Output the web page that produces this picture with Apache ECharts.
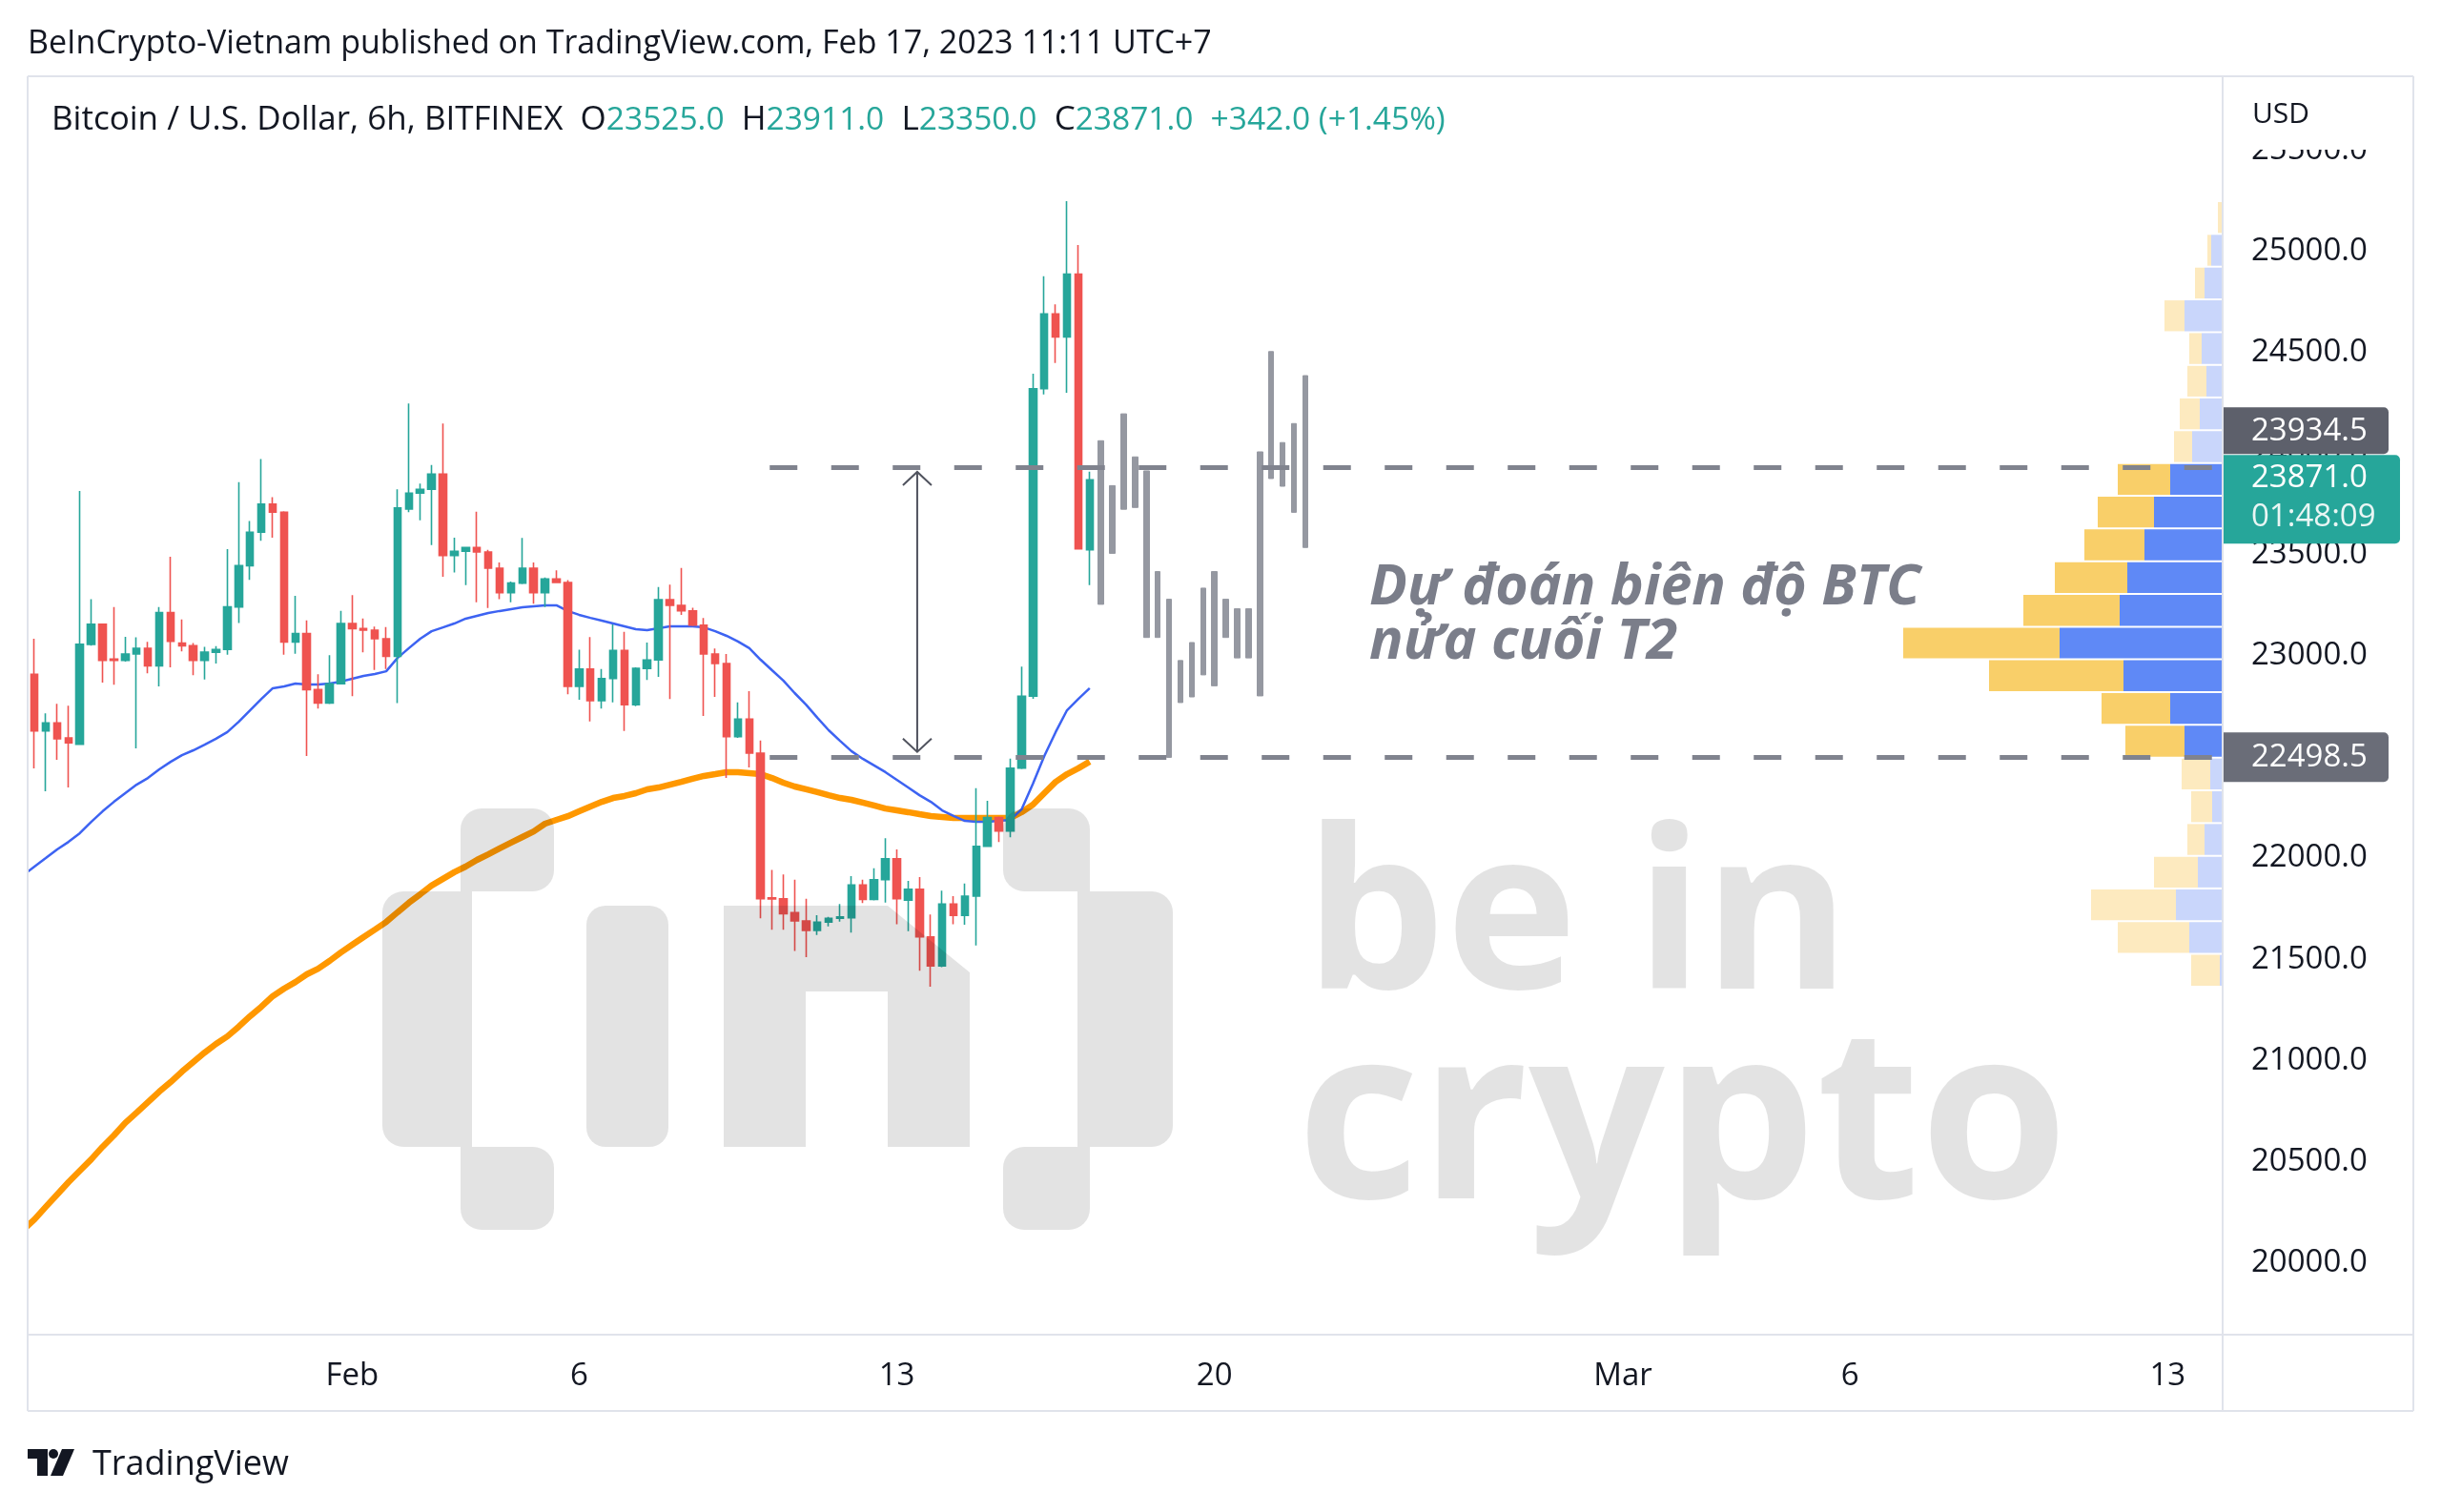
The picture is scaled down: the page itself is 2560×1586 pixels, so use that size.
<!DOCTYPE html>
<html><head><meta charset="utf-8">
<script src="https://cdn.jsdelivr.net/npm/echarts/dist/echarts.min.js"></script>
<style>html,body{margin:0;padding:0;background:#fff}#c{width:2560px;height:1586px}</style>
</head><body><div id="c"></div>
<script>
const FONT = '"Open Sans", Roboto, sans-serif';
// ---- 6h candles BTC/USD (index 0 = Jan 25 01:00, UTC+7) ----
const candleOpen = [22909,22629,22668,22594,22563,23057,23156,22984,22978,23009,23037,22951,23214,23063,23050,22978,23018,23032,23242,23446,23612,23750,23711,23069,23111,22833,22767,22862,23160,23135,23127,23085,22998,23726,23805,23824,23899,23496,23517,23536,23514,23434,23312,23360,23434,23312,23380,23363,22849,22935,22778,22888,23027,22758,22938,22980,23278,23250,23223,23152,23009,22962,22600,22687,22519,21803,21798,21730,21689,21642,21683,21702,21705,21867,21796,21893,21997,21792,21846,21610,21466,21773,21717,21812,22058,22200,22134,22445,22801,24321,24691,24577,24888,23525];
const candleHigh = [23085,22716,22763,22754,23816,23281,23160,23242,23094,23092,23069,23242,23490,23180,23063,23045,23048,23528,23859,23667,23973,23785,23715,23297,23176,22909,23004,23223,23300,23185,23145,23143,23824,24248,23852,23944,24149,23585,23540,23713,23525,23462,23368,23583,23462,23388,23423,23375,23030,23093,22935,23155,23119,22943,23066,23341,23352,23435,23238,23187,23037,23009,22770,22825,22582,21941,21919,21893,21799,21717,21709,21773,21911,21893,21950,22098,22043,21887,21906,21721,21839,21812,21874,22346,22283,22205,22492,22947,24395,24878,24738,25249,25032,23911];
const candleLow = [22444,22330,22486,22349,22560,23050,22868,22857,22972,22543,22914,22849,22943,23022,22904,22883,22962,23006,23163,23376,23569,23584,23006,23010,22505,22739,22762,22858,22801,23017,22930,22935,22767,23711,23671,23548,23391,23412,23350,23265,23237,23281,23265,23355,23258,23242,23360,22810,22783,22676,22739,22770,22629,22751,22881,22896,22786,23203,23147,22703,22797,22396,22594,22448,21702,21646,21646,21541,21510,21620,21662,21686,21631,21777,21790,21780,21673,21639,21443,21364,21460,21673,21670,21568,22055,22079,22103,22440,22788,24293,24448,24301,23529,23350];
const candleClose = [22629,22668,22590,22570,23057,23156,22978,22978,23009,23037,22951,23214,23072,23050,22978,23018,23032,23242,23446,23612,23750,23711,23069,23111,22833,22767,22862,23160,23135,23127,23085,22998,23732,23805,23824,23899,23496,23517,23536,23514,23434,23312,23360,23434,23312,23380,23363,22849,22935,22778,22888,23027,22758,22938,22980,23278,23250,23223,23152,23009,22962,22600,22687,22519,21799,21798,21725,21689,21642,21683,21702,21709,21867,21796,21893,21997,21799,21846,21610,21466,21773,21717,21812,22058,22200,22134,22445,22801,24321,24691,24577,24888,23529,23871];
// ---- moving averages (first value = bar just left of the view) ----
const maStartIndex = -1;
const maFast = [21915,21958,22000,22043,22080,22123,22179,22231,22278,22321,22363,22396,22439,22476,22509,22533,22561,22590,22623,22674,22731,22787,22840,22849,22863,22858,22858,22863,22873,22887,22901,22910,22924,22990,23038,23085,23122,23141,23160,23184,23198,23212,23222,23231,23240,23245,23250,23250,23222,23203,23188,23174,23160,23146,23132,23127,23137,23146,23146,23146,23141,23122,23099,23071,23038,22981,22929,22878,22816,22759,22694,22632,22580,22529,22491,22458,22425,22387,22349,22311,22278,22236,22208,22184,22179,22179,22184,22189,22241,22368,22505,22623,22731,22787,22840];
const maSlow = [20161,20213,20275,20336,20397,20454,20510,20572,20628,20690,20741,20793,20845,20892,20944,20991,21038,21081,21118,21166,21218,21265,21317,21354,21387,21425,21453,21491,21533,21571,21609,21646,21684,21732,21779,21821,21864,21897,21930,21958,21991,22019,22048,22076,22104,22132,22170,22189,22207,22231,22255,22278,22297,22307,22321,22340,22349,22363,22377,22392,22406,22415,22425,22425,22420,22415,22396,22373,22354,22340,22326,22311,22297,22288,22274,22260,22245,22236,22227,22217,22208,22203,22198,22198,22198,22198,22198,22198,22227,22264,22321,22377,22415,22444,22477];
// ---- projected (gray) bars ----
const projStart = 94;
const projLow  = [23255,23507,23725,23734,23091,23091,22498,22769,22797,22906,22852,23091,22990,22990,22802,23877,23839,23710,23536];
const projHigh = [24064,23842,24197,23984,23915,23417,23280,22977,23066,23335,23417,23280,23233,23233,24009,24505,24055,24149,24386];
// ---- volume profile (rows top->bottom) ----
const vpEdges = [25249,25087,24925,24763,24601,24439,24278,24116,23954,23792,23630,23468,23306,23144,22983,22821,22659,22497,22335,22173,22011,21850,21688,21526,21364];
const vpUp   = [0,12,19,40,22,17,24,32,55,72,82,100,108,171,104,55,40,13,11,19,26,49,35,3];
const vpDown = [5,4,10,21,13,20,21,19,55,59,63,76,101,164,141,72,62,30,22,18,46,89,75,30];
const vpValueArea = [0,0,0,0,0,0,0,0,1,1,1,1,1,1,1,1,1,0,0,0,0,0,0,0];
const vah = 23934.5, val = 22498.5;
const rangeStartIndex = 64.8;
const arrowIndex = 77.8, arrowTop = 23910, arrowBottom = 22525;
// ---- axes ----
const timeTickIndex = [28,48,76,104,140,160,188];
const timeTickLabels = ['Feb','6','13','20','Mar','6','13'];
const priceTicks = [20000,20500,21000,21500,22000,22500,23000,23500,24000,24500,25000,25500];
const lastOpen = 23525.0, lastHigh = 23911.0, lastLow = 23350.0, lastClose = 23871.0, change = 342.0, changePct = 1.45;
const countdown = '01:48:09';

const GRID = {left: 29, top: 80, width: 2302, height: 1320};
const UP = '#26a69a', DOWN = '#ef5350';

const chart = echarts.init(document.getElementById('c'), null, {renderer: 'canvas'});
const option = {
  animation: false,
  backgroundColor: '#ffffff',
  grid: GRID,
  xAxis: [{
    type: 'value', min: -0.6, max: 192.85,
    axisLine: {show: false}, axisTick: {show: false}, splitLine: {show: false},
    axisLabel: {customValues: timeTickIndex, formatter: v => timeTickLabels[timeTickIndex.indexOf(v)],
      color: '#131722', fontSize: 33, fontFamily: FONT, margin: 27}
  }, {
    type: 'value', inverse: true, min: 0, max: 2302, show: false
  }],
  yAxis: [{
    type: 'value', position: 'right', min: 19642.8, max: 25866.6,
    axisLine: {show: false}, axisTick: {show: false}, splitLine: {show: false},
    axisLabel: {customValues: priceTicks, formatter: v => v.toFixed(1), color: '#131722',
      fontSize: 33, fontFamily: FONT, margin: 30, align: 'left'}
  }],
  series: [
    {
      type: 'custom', name: 'VPVR', xAxisIndex: 1, yAxisIndex: 0, z: 1,
      data: vpUp.map((u, k) => [vpEdges[k + 1], vpEdges[k], u, vpDown[k], vpValueArea[k]]),
      encode: {x: 2, y: [0, 1]},
      renderItem: (params, api) => {
        const lo = api.value(0), hi = api.value(1), up = api.value(2), dn = api.value(3), va = api.value(4);
        const pTop = api.coord([0, hi]), pUp = api.coord([up, lo]), pDn = api.coord([up + dn, lo]);
        const y0 = pTop[1] + 1, h = pUp[1] - pTop[1] - 2;
        return {type: 'group', children: [
          {type: 'rect', shape: {x: pUp[0], y: y0, width: pTop[0] - pUp[0], height: h}, style: {fill: va ? '#5f89f6' : '#c9d6fb'}},
          {type: 'rect', shape: {x: pDn[0], y: y0, width: pUp[0] - pDn[0], height: h}, style: {fill: va ? '#f9cf69' : '#fdeabf'}}
        ]};
      }
    },
    {
      type: 'line', name: 'MA slow', data: maSlow.map((v, i) => [i + maStartIndex, v]), showSymbol: false, z: 2,
      lineStyle: {color: '#ff9800', width: 6.5, cap: 'butt'}
    },
    {
      type: 'line', name: 'MA fast', data: maFast.map((v, i) => [i + maStartIndex, v]), showSymbol: false, z: 2,
      lineStyle: {color: '#3d63f2', width: 2.5}
    },
    {
      type: 'candlestick', name: 'BTCUSD', z: 3, barWidth: 8,
      data: candleOpen.map((o, i) => [i, o, candleClose[i], candleLow[i], candleHigh[i]]),
      encode: {x: 0, y: [1, 2, 3, 4]},
      itemStyle: {color: UP, color0: DOWN, borderColor: UP, borderColor0: DOWN, borderWidth: 1.6}
    },
    {
      type: 'candlestick', name: 'Projection', z: 3, barWidth: 6,
      data: projLow.map((l, k) => [projStart + k, l, projHigh[k], l, projHigh[k]]),
      encode: {x: 0, y: [1, 2, 3, 4]},
      itemStyle: {color: '#9598a1', color0: '#9598a1', borderColor: '#9598a1', borderColor0: '#9598a1', borderWidth: 1}
    },
    {
      type: 'custom', name: 'Range', z: 5,
      data: [[arrowIndex, arrowTop, arrowBottom]],
      encode: {x: 0, y: [1, 2]},
      renderItem: (params, api) => {
        const a = api.coord([api.value(0), api.value(1)]), b = api.coord([api.value(0), api.value(2)]);
        const hw = 15, hh = 14, st = {stroke: '#50535e', lineWidth: 2, fill: null};
        return {type: 'group', children: [
          {type: 'line', shape: {x1: a[0], y1: a[1], x2: b[0], y2: b[1]}, style: st},
          {type: 'polyline', shape: {points: [[a[0] - hw, a[1] + hh], [a[0], a[1]], [a[0] + hw, a[1] + hh]]}, style: st},
          {type: 'polyline', shape: {points: [[b[0] - hw, b[1] - hh], [b[0], b[1]], [b[0] + hw, b[1] - hh]]}, style: st}
        ]};
      },
      markLine: {
        silent: true, symbol: ['none', 'none'], label: {show: false},
        lineStyle: {color: '#80838e', width: 5, type: [29, 35.5]},
        data: [
          [{coord: [rangeStartIndex, vah]}, {coord: [192.85, vah]}],
          [{coord: [rangeStartIndex, val]}, {coord: [192.85, val]}]
        ]
      }
    }
  ]
};
chart.setOption(option);

// ---------- overlay graphics ----------
const yPx = v => chart.convertToPixel({yAxisIndex: 0}, v);
const FR = '#e0e3eb';
const g = [];
// white strip left of plot (hides stroke overhang of lines)
g.push({type: 'rect', z: 59, shape: {x: 0, y: 80, width: 28, height: 1320}, style: {fill: '#ffffff'}});
const ln = (x1, y1, x2, y2) => g.push({type: 'line', z: 60, shape: {x1, y1, x2, y2}, style: {stroke: FR, lineWidth: 2}});
ln(29, 80, 2531, 80); ln(29, 1400, 2531, 1400); ln(29, 1480, 2531, 1480);
ln(29, 80, 29, 1480); ln(2531, 80, 2531, 1480); ln(2331, 80, 2331, 1480);

g.push({type: 'text', z: 60, x: 29, y: 46, style: {text: 'BeInCrypto-Vietnam published on TradingView.com, Feb 17, 2023 11:11 UTC+7',
  font: '34px ' + FONT, fill: '#131722', verticalAlign: 'middle'}});
const chg = '+' + change.toFixed(1) + ' (+' + changePct.toFixed(2) + '%)';
const LG = '35px ' + FONT, LV = '33.5px ' + FONT;
g.push({type: 'text', z: 60, x: 54, y: 126, style: {
  text: '{a|Bitcoin / U.S. Dollar, 6h, BITFINEX}  {a|O}{b|' + lastOpen.toFixed(1) + '}  {a|H}{b|' + lastHigh.toFixed(1) +
        '}  {a|L}{b|' + lastLow.toFixed(1) + '}  {a|C}{b|' + lastClose.toFixed(1) + '}  {b|' + chg + '}',
  font: LG, fill: '#131722', verticalAlign: 'middle',
  rich: {a: {fill: '#131722', font: LG}, b: {fill: '#26a69a', font: LV}}}});

// USD header in price scale
g.push({type: 'rect', z: 55, shape: {x: 2333, y: 82, width: 196, height: 75}, style: {fill: '#ffffff'}});
g.push({type: 'text', z: 56, x: 2362, y: 120, style: {text: 'USD', font: '30px ' + FONT, fill: '#131722', verticalAlign: 'middle'}});

// annotation
const AF = 'italic bold 59px "Open Sans"';
g.push({type: 'text', z: 60, x: 1436, y: 617, style: {text: 'Dự đoán biên độ BTC', font: AF, fill: '#7b7e8a', verticalAlign: 'middle'}});
g.push({type: 'text', z: 60, x: 1436, y: 674, style: {text: 'nửa cuối T2', font: AF, fill: '#7b7e8a', verticalAlign: 'middle'}});

// watermark (semi-transparent overlay)
const WM = 'rgba(0,0,0,0.11)';
const rr = (x, y, w, h, r) => g.push({type: 'rect', z: 40, shape: {x, y, width: w, height: h, r}, style: {fill: WM}});
rr(483, 848, 98, 87, [22, 22, 22, 0]); rr(401, 935, 94, 268, [22, 0, 0, 22]); rr(483, 1203, 98, 87, [0, 22, 22, 22]);
rr(615, 950, 86, 253, 20);
g.push({type: 'polygon', z: 40, shape: {points: [[759, 950], [931, 950], [1017, 1020], [1017, 1203], [931, 1203], [931, 1040], [845, 1040], [845, 1203], [759, 1203]]}, style: {fill: WM}});
rr(1052, 848, 91, 87, [22, 22, 0, 22]); rr(1130, 935, 100, 268, [0, 22, 22, 0]); rr(1052, 1203, 91, 87, [22, 0, 22, 22]);
g.push({type: 'text', z: 40, x: 1368, y: 970, style: {text: 'be in', font: 'bold 234px "Open Sans"', fill: WM, verticalAlign: 'middle'}});
g.push({type: 'text', z: 40, x: 1360, y: 1185, style: {text: 'crypto', font: 'bold 251px "Open Sans"', fill: WM, verticalAlign: 'middle'}});

// TradingView logo
g.push({type: 'polygon', z: 60, shape: {points: [[29, 1520], [50, 1520], [50, 1548], [39, 1548], [39, 1530], [29, 1530]]}, style: {fill: '#131722'}});
g.push({type: 'circle', z: 60, shape: {cx: 56, cy: 1525, r: 5}, style: {fill: '#131722'}});
g.push({type: 'polygon', z: 60, shape: {points: [[65, 1520], [78, 1520], [66, 1548], [53, 1548]]}, style: {fill: '#131722'}});
g.push({type: 'text', z: 60, x: 97, y: 1537, style: {text: 'TradingView', font: '36px ' + FONT, fill: '#131722', verticalAlign: 'middle'}});

// price scale labels
const yC = yPx(lastClose), yL = yPx(val);
const tealTop = yC - 26, tealH = 93;
const LF = '33px ' + FONT;
g.push({type: 'rect', z: 57, shape: {x: 2331, y: tealTop - 50, width: 174, height: 49, r: [0, 5, 5, 0]}, style: {fill: '#5d606b'}});
g.push({type: 'text', z: 58, x: 2361, y: tealTop - 25, style: {text: vah.toFixed(1), font: LF, fill: '#ffffff', verticalAlign: 'middle'}});
g.push({type: 'rect', z: 57, shape: {x: 2331, y: tealTop, width: 186, height: tealH, r: [0, 5, 5, 0]}, style: {fill: '#26a69a'}});
g.push({type: 'text', z: 58, x: 2361, y: yC - 2, style: {text: lastClose.toFixed(1), font: LF, fill: '#ffffff', verticalAlign: 'middle'}});
g.push({type: 'text', z: 58, x: 2361, y: yC + 39, style: {text: countdown, font: LF, fill: '#e9f6f4', verticalAlign: 'middle'}});
g.push({type: 'rect', z: 57, shape: {x: 2331, y: yL - 26, width: 174, height: 52, r: [0, 5, 5, 0]}, style: {fill: '#6a6d78'}});
g.push({type: 'text', z: 58, x: 2361, y: yL, style: {text: val.toFixed(1), font: LF, fill: '#ffffff', verticalAlign: 'middle'}});

chart.setOption({graphic: {elements: g}});
</script></body></html>
